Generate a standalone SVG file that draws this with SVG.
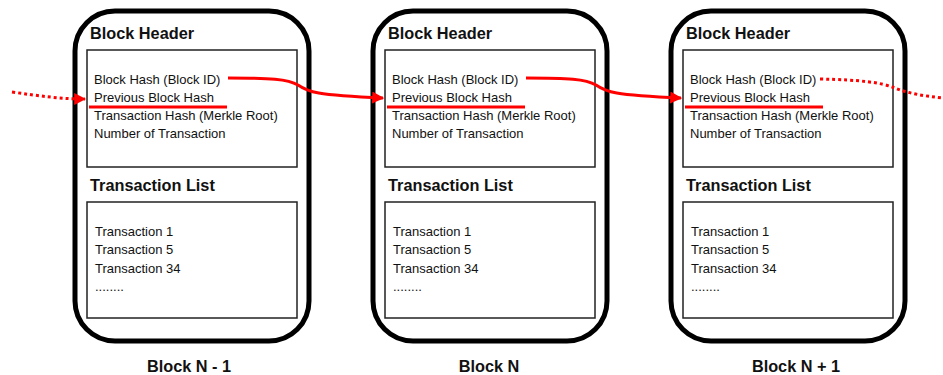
<svg xmlns="http://www.w3.org/2000/svg" width="943" height="375" viewBox="0 0 943 375">
<defs>
<style>
.outer{fill:none;stroke:#000;stroke-width:5}
.inner{fill:#fff;stroke:#222;stroke-width:1.5}
.h{font-family:"Liberation Sans",Arial,sans-serif;font-weight:bold;font-size:16.3px;fill:#111}
.t{font-family:"Liberation Sans",Arial,sans-serif;font-size:13px;fill:#111}
.lbl{font-family:"Liberation Sans",Arial,sans-serif;font-weight:bold;font-size:16.3px;fill:#111;text-anchor:middle}
.ul{stroke:#f00;stroke-width:3;fill:none}
.link{stroke:#f00;stroke-width:3;fill:none}
.dot{stroke:#f00;stroke-width:3;fill:none;stroke-dasharray:3 3}
</style>
<marker id="ah" viewBox="0 0 10 10" refX="9" refY="5" markerWidth="4" markerHeight="4" markerUnits="strokeWidth" orient="auto">
<path d="M0,0 L10,5 L0,10 Z" fill="#f00"/>
</marker>
<g id="blk">
<rect class="outer" x="0" y="11" width="234" height="330" rx="40" ry="40"/>
<rect class="inner" x="12" y="50" width="210" height="117"/>
<rect class="inner" x="12" y="202" width="210" height="116"/>
<text class="h" x="15" y="39">Block Header</text>
<text class="t" x="19" y="84">Block Hash (Block ID)</text>
<text class="t" x="19" y="102">Previous Block Hash</text>
<text class="t" x="19" y="120">Transaction Hash (Merkle Root)</text>
<text class="t" x="19" y="138">Number of Transaction</text>
<text class="h" x="15" y="191">Transaction List</text>
<text class="t" x="20" y="236">Transaction 1</text>
<text class="t" x="20" y="254">Transaction 5</text>
<text class="t" x="20" y="273">Transaction 34</text>
<text class="t" x="20" y="291">........</text>
<line class="ul" x1="14" y1="107" x2="152" y2="107"/>
</g>
</defs>
<g id="block-n-1">
<use href="#blk" x="75" y="0"/>
<text class="lbl" x="189" y="372">Block N - 1</text>
</g>
<g id="block-n">
<use href="#blk" x="373" y="0"/>
<text class="lbl" x="489" y="372">Block N</text>
</g>
<g id="block-n1">
<use href="#blk" x="671" y="0"/>
<text class="lbl" x="796" y="372">Block N + 1</text>
</g>
<g id="connectors">
<path class="dot" d="M12,92 C40,96 60,99 85,99" marker-end="url(#ah)"/>
<path class="link" d="M228,78 C270,78 288,79 298,85 C308,92 315,95 383,98" marker-end="url(#ah)"/>
<path class="link" d="M526,78 C568,78 586,79 596,85 C606,92 613,95 681,98" marker-end="url(#ah)"/>
<path class="dot" d="M820,79 C860,80 880,82 895,88 C910,94 925,96 943,98"/>
</g>
</svg>
